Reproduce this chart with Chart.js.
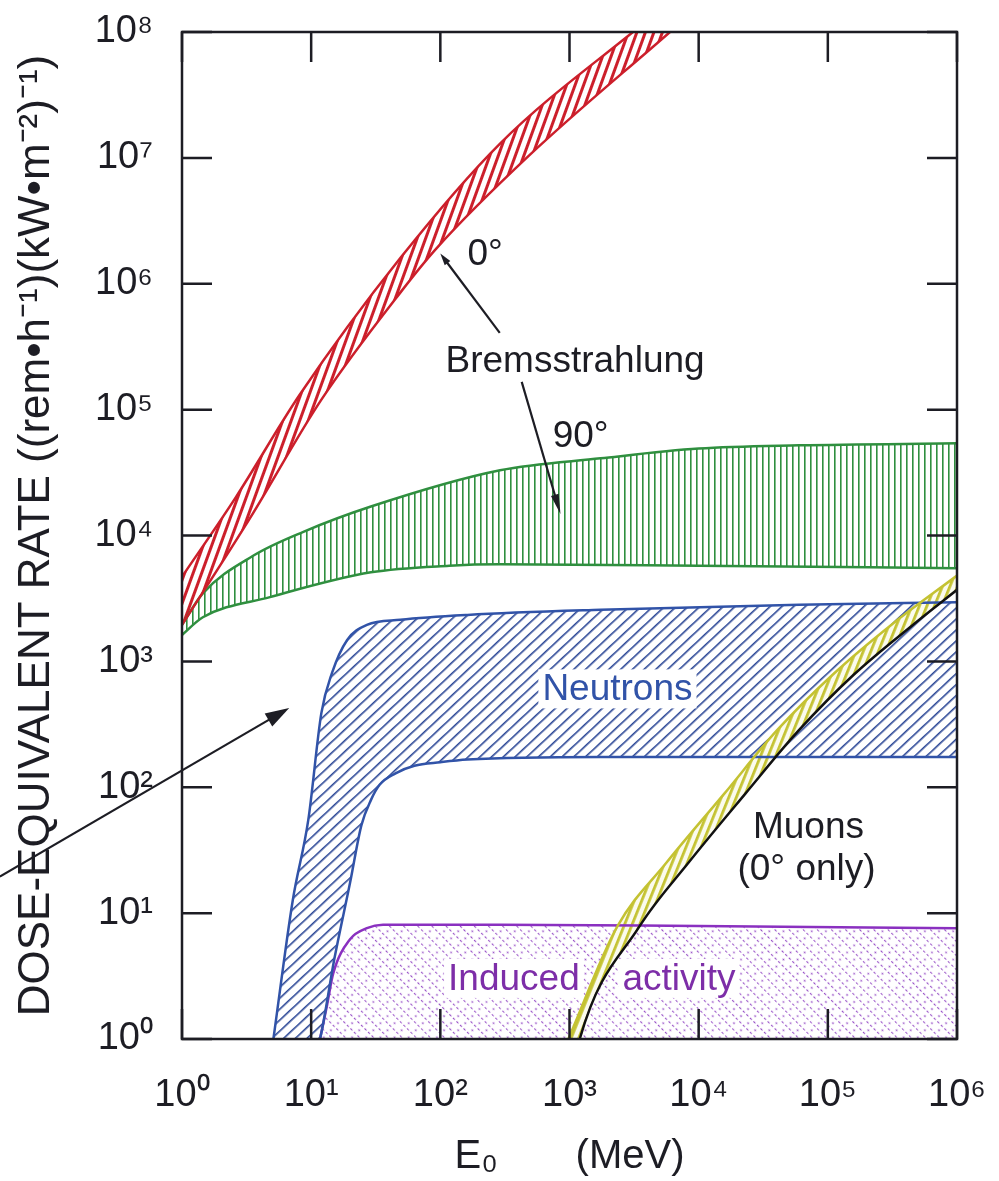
<!DOCTYPE html>
<html>
<head>
<meta charset="utf-8">
<title>Dose-equivalent rate</title>
<script src="https://cdn.jsdelivr.net/npm/chart.js@4.4.1/dist/chart.umd.min.js"></script>
<style>
  html, body { margin: 0; padding: 0; background: #fff; }
  #chart { display: block; }
</style>
</head>
<body>
<canvas id="chart" width="999" height="1181"></canvas>
<script>
// decade ticks
var xTicks = [1, 10, 100, 1e3, 1e4, 1e5, 1e6];
var xTickLabels = ['10⁰', '10¹', '10²', '10³', '10⁴', '10⁵', '10⁶'];
var yTicks = [1, 10, 100, 1e3, 1e4, 1e5, 1e6, 1e7, 1e8];
var yTickLabels = ['10⁰', '10¹', '10²', '10³', '10⁴', '10⁵', '10⁶', '10⁷', '10⁸'];

// Bremsstrahlung, 0 deg (energy MeV / dose rate)
var brem0UpperE = [1, 2.6, 8.1, 49, 290, 3100, 6000];
var brem0UpperD = [4700, 2.0e4, 1.3e5, 1.6e6, 1.3e7, 1.0e8, 1.7e8];
var brem0LowerE = [1, 3.4, 12, 49, 93, 490, 6000];
var brem0LowerD = [1950, 1.4e4, 1.2e5, 8.5e5, 1.9e6, 1.05e7, 1.0e8];

// Bremsstrahlung, 90 deg
var brem90UpperE = [1, 1.45, 3.55, 8.7, 29, 290, 1740, 1e4, 6e4, 1e6];
var brem90UpperD = [1950, 3470, 6900, 1.07e4, 1.7e4, 3.3e4, 4.1e4, 4.9e4, 5.2e4, 5.4e4];
var brem90LowerE = [1, 1.45, 4.8, 29, 117, 290, 1e4, 1e6];
var brem90LowerD = [1620, 2240, 3240, 5100, 5750, 5900, 5750, 5500];

// Neutrons
var neutUpperE = [5.1, 7.2, 9.5, 12, 14.5, 19, 27, 49, 162, 1740, 6e4, 1e6];
var neutUpperD = [1, 12.6, 55, 390, 810, 1480, 1950, 2140, 2340, 2570, 2820, 2950];
var neutLowerE = [5.1, 11.7, 15.1, 20, 24.5, 29, 34, 45, 63, 100, 162, 1740, 1e6];
var neutLowerD = [0.1, 1, 4.3, 17.4, 50, 79, 105, 129, 148, 158, 166, 174, 174];

// Induced activity
var indE = [11.7, 13.2, 14.8, 20, 27, 36, 290, 1e4, 1e6];
var indD = [1, 1.8, 3.3, 6.2, 7.6, 8.1, 8.1, 7.9, 7.6];

// Muons (0 deg only)
var muUpperE = [980, 2340, 5600, 1.58e4, 4e4, 1.1e5, 3.2e5, 1e6];
var muUpperD = [1, 7.8, 25, 89, 280, 790, 2000, 4800];
var muLowerE = [980, 1200, 3470, 8300, 2.3e4, 5.9e4, 1.6e5, 4.7e5, 1e6];
var muLowerD = [0.35, 1, 7.8, 25, 89, 280, 790, 2000, 3700];

var ink = '#1d1d24';
var red = '#cc1f2b', green = '#2f8f3f', blue = '#3153a8', purple = '#8a30c0', yellow = '#c4c232';
var font = 'Liberation Sans, Arial, sans-serif';

function pts(xs, ys) {
  return xs.map(function (x, i) { return {x: x, y: ys[i]}; });
}

function hatch(color, gap, width, angle, bg) {
  var c = document.createElement('canvas');
  c.width = gap; c.height = gap;
  var g = c.getContext('2d');
  if (bg) { g.fillStyle = bg; g.fillRect(0, 0, gap, gap); }
  g.fillStyle = color;
  g.fillRect(0, 0, width, gap);
  var p = g.createPattern(c, 'repeat');
  p.setTransform(new DOMMatrix().rotate(angle));
  return p;
}

// dashed "\" hatch with dots in between
function dotted(color) {
  var c = document.createElement('canvas');
  c.width = 10; c.height = 10;
  var g = c.getContext('2d');
  g.fillStyle = color;
  g.fillRect(0, 0, 1.1, 2.6);
  g.fillRect(0, 5, 1.1, 2.6);
  g.beginPath();
  g.arc(5.5, 2.5, 0.9, 0, 2 * Math.PI);
  g.fill();
  var p = g.createPattern(c, 'repeat');
  p.setTransform(new DOMMatrix().rotate(-45));
  return p;
}

var notes = [
  {text: '0°', ex: 2.21, ey: 6.15, color: ink},
  {text: 'Bremsstrahlung', ex: 2.04, ey: 5.30, color: ink},
  {text: '90°', ex: 2.87, ey: 4.70, color: ink},
  {text: 'Neutrons', ex: 2.79, ey: 2.69, color: blue, knock: true},
  {text: 'Muons', ex: 4.42, ey: 1.60, color: ink},
  {text: '(0° only)', ex: 4.30, ey: 1.26, color: ink},
  {text: 'Induced', ex: 2.06, ey: 0.39, color: '#7d2ea8', knock: true},
  {text: 'activity', ex: 3.41, ey: 0.39, color: '#7d2ea8', knock: true}
];
var arrows = [
  {from: [2.46, 5.61], to: [2.0, 6.24], head: 12, wide: 7},
  {from: [2.63, 5.22], to: [2.93, 4.17], head: 20, wide: 8},
  {from: [-1.41, 1.29], to: [0.83, 2.63], head: 24, wide: 15}
];

function arrow(ctx, x0, y0, x1, y1, head, wide) {
  var a = Math.atan2(y1 - y0, x1 - x0);
  ctx.beginPath();
  ctx.moveTo(x0, y0);
  ctx.lineTo(x1 - Math.cos(a) * head * 0.8, y1 - Math.sin(a) * head * 0.8);
  ctx.stroke();
  ctx.beginPath();
  ctx.moveTo(x1, y1);
  ctx.lineTo(x1 - Math.cos(a) * head - Math.sin(a) * wide / 2, y1 - Math.sin(a) * head + Math.cos(a) * wide / 2);
  ctx.lineTo(x1 - Math.cos(a) * head + Math.sin(a) * wide / 2, y1 - Math.sin(a) * head - Math.cos(a) * wide / 2);
  ctx.closePath();
  ctx.fill();
}

var framePlugin = {
  id: 'frame',
  afterDatasetsDraw: function (chart) {
    var ctx = chart.ctx, a = chart.chartArea, sx = chart.scales.x, sy = chart.scales.y;
    var px = function (e) { return sx.getPixelForValue(Math.pow(10, e)); };
    var py = function (e) { return sy.getPixelForValue(Math.pow(10, e)); };
    ctx.save();
    ctx.font = '37px ' + font;
    ctx.textBaseline = 'alphabetic';
    ctx.textAlign = 'left';
    notes.forEach(function (n) {
      var x = px(n.ex), y = py(n.ey);
      if (n.knock) {
        var w = ctx.measureText(n.text).width;
        ctx.fillStyle = '#fff';
        ctx.fillRect(x - 4, y - 31, w + 8, 39);
      }
      ctx.fillStyle = n.color;
      ctx.fillText(n.text, x, y);
    });

    ctx.strokeStyle = ink;
    ctx.fillStyle = ink;
    ctx.lineWidth = 2.2;
    arrows.forEach(function (r) {
      arrow(ctx, px(r.from[0]), py(r.from[1]), px(r.to[0]), py(r.to[1]), r.head, r.wide);
    });

    ctx.lineWidth = 2.5;
    ctx.strokeRect(a.left, a.top, a.right - a.left, a.bottom - a.top);
    ctx.beginPath();
    xTicks.forEach(function (v) {
      var x = sx.getPixelForValue(v);
      ctx.moveTo(x, a.bottom); ctx.lineTo(x, a.bottom - 30);
      ctx.moveTo(x, a.top); ctx.lineTo(x, a.top + 30);
    });
    yTicks.forEach(function (v) {
      var y = sy.getPixelForValue(v);
      ctx.moveTo(a.left, y); ctx.lineTo(a.left + 30, y);
      ctx.moveTo(a.right, y); ctx.lineTo(a.right - 30, y);
    });
    ctx.stroke();
    ctx.restore();
  }
};

var redHatch = hatch(red, 8, 3, 20);
var greenHatch = hatch(green, 6, 1.6, 0);
var blueHatch = hatch('#2b4796', 8, 1.6, 47);
var purpleHatch = dotted('#9a55c8');
var yellowHatch = hatch(yellow, 7, 2.8, 22, '#fbfbee');

new Chart(document.getElementById('chart'), {
  type: 'line',
  data: {
    datasets: [
      {data: pts(muUpperE, muUpperD), borderColor: yellow, backgroundColor: yellowHatch, fill: '+1'},
      {data: pts(muLowerE, muLowerD), borderColor: '#111', fill: false},
      {data: pts(brem0UpperE, brem0UpperD), borderColor: red, backgroundColor: redHatch, fill: '+1'},
      {data: pts(brem0LowerE, brem0LowerD), borderColor: red, fill: false},
      {data: pts(brem90UpperE, brem90UpperD), borderColor: green, backgroundColor: greenHatch, fill: '+1'},
      {data: pts(brem90LowerE, brem90LowerD), borderColor: green, fill: false},
      {data: pts(neutUpperE, neutUpperD), borderColor: blue, backgroundColor: blueHatch, fill: '+1'},
      {data: pts(neutLowerE, neutLowerD), borderColor: blue, fill: false},
      {data: pts(indE, indD), borderColor: purple, backgroundColor: purpleHatch, fill: 'start'}
    ]
  },
  options: {
    responsive: false,
    animation: false,
    devicePixelRatio: 1,
    layout: {padding: {top: 32, right: 42, bottom: 0, left: 0}},
    elements: {
      point: {radius: 0},
      line: {borderWidth: 2.5, cubicInterpolationMode: 'monotone'}
    },
    plugins: {
      legend: {display: false},
      tooltip: {enabled: false},
      filler: {drawTime: 'beforeDatasetsDraw'}
    },
    scales: {
      x: {
        type: 'logarithmic',
        min: 1, max: 1e6,
        grid: {display: false, drawTicks: true, tickLength: 30},
        border: {display: false},
        afterBuildTicks: function (s) { s.ticks = xTicks.map(function (v) { return {value: v}; }); },
        afterFit: function (s) { s.height = 142; },
        ticks: {
          autoSkip: false, maxRotation: 0, padding: 4, color: ink,
          font: {family: font, size: 38},
          callback: function (v) { return xTickLabels[xTicks.indexOf(v)]; }
        },
        title: {
          display: true, text: 'E₀       (MeV)', color: ink,
          font: {family: font, size: 40}, padding: {top: 0, bottom: 0}
        }
      },
      y: {
        type: 'logarithmic',
        min: 1, max: 1e8,
        grid: {display: false, drawTicks: true, tickLength: 25},
        border: {display: false},
        afterBuildTicks: function (s) { s.ticks = yTicks.map(function (v) { return {value: v}; }); },
        afterFit: function (s) { s.width = 182; },
        ticks: {
          autoSkip: false, padding: 4, color: ink,
          font: {family: font, size: 38},
          callback: function (v) { return yTickLabels[yTicks.indexOf(v)]; }
        },
        title: {
          display: true, text: 'DOSE-EQUIVALENT RATE ((rem•h⁻¹)(kW•m⁻²)⁻¹)', color: ink,
          font: {family: font, size: 44}, padding: {top: 10, bottom: 0}
        }
      }
    }
  },
  plugins: [framePlugin]
});
</script>
</body>
</html>
